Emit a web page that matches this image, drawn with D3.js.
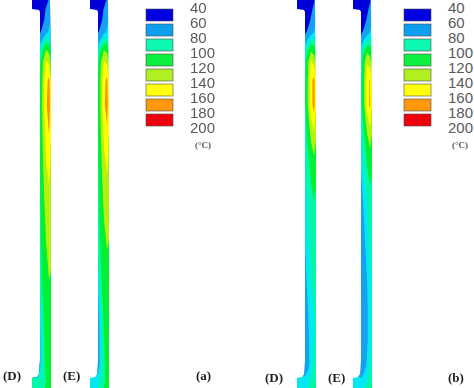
<!DOCTYPE html>
<html>
<head>
<meta charset="utf-8">
<script src="https://cdn.jsdelivr.net/npm/d3@7"></script>
<style>
  html, body { margin: 0; padding: 0; background: #fff; }
  svg { display: block; }
</style>
</head>
<body>
<div id="chart"></div>
<script>
// legend
var legendTicks = [40, 60, 80, 100, 120, 140, 160, 180, 200];
var bandColors = ["#0000e0", "#10a0f0", "#10f8b0", "#10f040", "#b0f020", "#ffff10", "#ff9810", "#f00010"];
var legendUnit = "(°C)";

// the contour fill has one extra cyan step, the legend skips it
var plotThresholds = [60, 76, 86, 100, 120, 140, 160, 180];
var plotColors = ["#0000d8", "#18a0f0", "#00e8f0", "#00f8a8", "#00f030", "#b8f010", "#ffff00", "#ff9000", "#ff0000"];

// stations where the temperature was read (picture rows and offsets across the wall)
var rowStations = [0, 9, 20, 32, 40, 50, 62, 80, 105, 130, 160, 200, 240, 280, 310, 340, 365, 378, 388];
var colStations = [-8, 0, 3, 6, 9, 11];

var tempAD = [
  [45, 45, 45, 50, 62, 70],
  [45, 45, 50, 62, 68, 72],
  [45, 48, 56, 66, 72, 76],
  [50, 58, 66, 72, 78, 82],
  [60, 70, 78, 90, 88, 84],
  [70, 84, 102, 120, 114, 100],
  [80, 94, 120, 142, 136, 118],
  [85, 100, 126, 154, 165, 140],
  [90, 102, 128, 156, 172, 148],
  [90, 102, 124, 148, 162, 142],
  [88, 100, 120, 140, 146, 136],
  [86, 98, 114, 128, 136, 132],
  [84, 96, 108, 120, 127, 126],
  [78, 90, 104, 114, 120, 118],
  [72, 80, 98, 110, 114, 112],
  [72, 74, 92, 108, 112, 110],
  [78, 74, 92, 104, 110, 110],
  [86, 86, 92, 100, 110, 112],
  [90, 90, 94, 102, 110, 112]
];
var tempAE = [
  [45, 45, 45, 50, 62, 70],
  [45, 45, 50, 62, 68, 72],
  [45, 48, 56, 66, 72, 76],
  [50, 58, 66, 72, 78, 82],
  [60, 70, 78, 90, 88, 84],
  [70, 84, 102, 120, 114, 100],
  [80, 94, 120, 142, 136, 118],
  [85, 100, 126, 154, 165, 140],
  [88, 100, 126, 156, 170, 146],
  [88, 100, 122, 146, 158, 140],
  [86, 98, 116, 136, 144, 134],
  [82, 94, 110, 124, 132, 128],
  [78, 90, 104, 116, 122, 120],
  [72, 80, 98, 110, 114, 112],
  [68, 70, 90, 104, 110, 108],
  [66, 68, 84, 100, 108, 108],
  [72, 68, 84, 98, 106, 108],
  [80, 80, 88, 96, 106, 110],
  [86, 86, 92, 100, 108, 112]
];
var tempBD = [
  [45, 45, 45, 48, 58, 66],
  [45, 45, 46, 56, 64, 70],
  [45, 46, 52, 62, 70, 74],
  [48, 56, 64, 70, 76, 80],
  [60, 70, 78, 86, 88, 86],
  [70, 84, 100, 116, 110, 100],
  [80, 94, 118, 142, 134, 116],
  [85, 98, 122, 154, 166, 140],
  [85, 98, 122, 152, 168, 144],
  [84, 92, 108, 128, 142, 125],
  [78, 86, 96, 108, 116, 110],
  [74, 80, 88, 94, 100, 96],
  [72, 76, 84, 90, 92, 92],
  [68, 72, 80, 86, 88, 88],
  [62, 66, 76, 82, 86, 88],
  [62, 64, 74, 80, 86, 88],
  [66, 64, 72, 82, 88, 92],
  [82, 78, 82, 86, 90, 96],
  [84, 84, 86, 88, 92, 104]
];
var tempBE = [
  [45, 45, 45, 48, 58, 66],
  [45, 45, 46, 56, 64, 70],
  [45, 46, 52, 62, 70, 74],
  [48, 56, 64, 70, 76, 80],
  [60, 68, 76, 84, 88, 86],
  [68, 82, 98, 114, 108, 100],
  [76, 90, 114, 138, 130, 114],
  [80, 94, 118, 150, 162, 136],
  [82, 94, 118, 148, 164, 140],
  [78, 86, 102, 122, 136, 122],
  [72, 78, 88, 102, 110, 106],
  [66, 72, 78, 86, 94, 92],
  [64, 68, 74, 80, 88, 90],
  [62, 66, 70, 76, 84, 88],
  [60, 62, 68, 74, 82, 88],
  [60, 62, 68, 74, 82, 88],
  [64, 62, 68, 78, 86, 92],
  [80, 76, 80, 84, 90, 98],
  [84, 84, 86, 88, 94, 106]
];

var panelLabels = ["(D)", "(E)", "(a)", "(D)", "(E)", "(b)"];

var width = 474, height = 388;

var svg = d3.select("#chart").append("svg")
    .attr("width", width)
    .attr("height", height);

var defs = svg.append("defs");
defs.append("filter").attr("id", "soft")
    .attr("x", "-20%").attr("width", "140%")
    .append("feGaussianBlur").attr("stdDeviation", 0.7);
defs.append("filter").attr("id", "softText")
    .append("feGaussianBlur").attr("stdDeviation", 0.3);

var colorScale = d3.scaleThreshold()
    .domain(plotThresholds)
    .range(plotColors);

// grid index -> picture position, d3.contours puts a value at index + 0.5
var rowScale = d3.scaleLinear()
    .domain(rowStations.map(function(d, i) { return i + 0.5; }))
    .range(rowStations);
var colScale = d3.scaleLinear()
    .domain(colStations.map(function(d, i) { return i + 0.5; }))
    .range(colStations);

var outline = d3.line();

function drawPanel(name, temps, x0, parent) {
    var values = d3.merge(temps);
    var contours = d3.contours()
        .size([colStations.length, rowStations.length])
        .thresholds([0].concat(plotThresholds));

    var path = d3.geoPath(d3.geoTransform({
        point: function(x, y) {
            this.stream.point(x0 + colScale(x), rowScale(y));
        }
    }));

    var shape = [[-8, -2], [10, -2], [10.5, 60], [11, 100], [11, 390], [-8, 390], [-8, 378], [-3, 377],
        [-1, 374], [0, 360], [0, 12], [-1, 10], [-8, 9]];

    defs.append("clipPath").attr("id", "clip-" + name)
        .append("path")
        .attr("d", outline(shape.map(function(p) { return [x0 + p[0], p[1]]; })) + "Z");

    parent.append("g")
        .attr("clip-path", "url(#clip-" + name + ")")
        .selectAll("path")
        .data(contours(values))
        .enter().append("path")
        .attr("d", path)
        .attr("fill", function(d) { return colorScale(d.value); });
}

var panels = svg.append("g").attr("filter", "url(#soft)");
drawPanel("ad", tempAD, 40, panels);
drawPanel("ae", tempAE, 98, panels);
drawPanel("bd", tempBD, 305, panels);
drawPanel("be", tempBE, 361, panels);

// legends
function drawLegend(boxX, labelX, unitX) {
    var legendY = d3.scaleLinear().domain([40, 200]).range([8, 128]);

    var g = svg.append("g").attr("filter", "url(#softText)");

    g.selectAll("rect")
        .data(bandColors)
        .enter().append("rect")
        .attr("x", boxX)
        .attr("y", function(d, i) { return legendY(legendTicks[i]) + 1; })
        .attr("width", 27)
        .attr("height", 12)
        .attr("fill", function(d) { return d; })
        .attr("stroke", "#444")
        .attr("stroke-opacity", 0.7)
        .attr("stroke-width", 0.8);

    var axis = d3.axisRight(legendY)
        .tickValues(legendTicks)
        .tickSize(0)
        .tickPadding(0)
        .tickFormat(d3.format("d"));

    var ag = svg.append("g")
        .attr("transform", "translate(" + labelX + ",0)")
        .call(axis);
    ag.select(".domain").remove();
    ag.selectAll("text")
        .style("font-family", "Liberation Sans, Arial, sans-serif")
        .style("font-size", "15px")
        .style("fill", "#5a5a5a");

    svg.append("text")
        .attr("x", unitX)
        .attr("y", 148)
        .style("font-family", "Liberation Serif, serif")
        .style("font-size", "9px")
        .style("font-weight", "bold")
        .style("fill", "#555")
        .text(legendUnit);
}

drawLegend(146, 190, 195);
drawLegend(404, 448, 452);

// panel captions
var captionX = [3, 63, 196, 265, 328, 448];
var captionY = [380, 380, 380, 382, 382, 382];
svg.selectAll(".caption")
    .data(panelLabels)
    .enter().append("text")
    .attr("class", "caption")
    .attr("x", function(d, i) { return captionX[i]; })
    .attr("y", function(d, i) { return captionY[i]; })
    .style("font-family", "Liberation Serif, serif")
    .style("font-size", "13px")
    .style("font-weight", "bold")
    .style("fill", "#222")
    .text(function(d) { return d; });
</script>
</body>
</html>
